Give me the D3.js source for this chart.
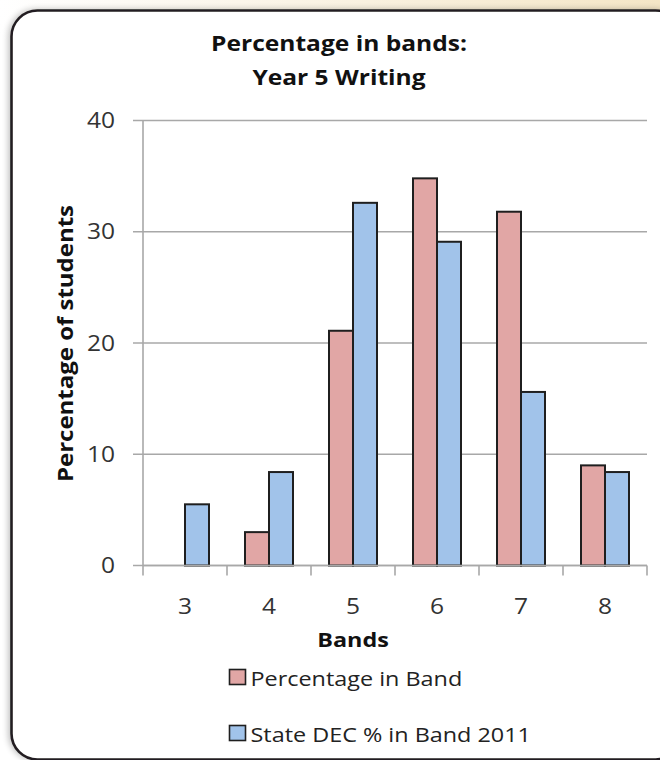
<!DOCTYPE html>
<html>
<head>
<meta charset="utf-8">
<script src="https://cdn.jsdelivr.net/npm/d3@7/dist/d3.min.js"></script>
<style>
  html, body { margin: 0; padding: 0; background: #fff; }
  svg { display: block; }
  text { font-family: "Open Sans", Lato, sans-serif; }
</style>
</head>
<body>
<svg id="chart" width="660" height="760"></svg>
<script>
// Band categories and the two series plotted against them
const bands = ["3", "4", "5", "6", "7", "8"];
const schoolPct = [0, 3.0, 21.1, 34.8, 31.8, 9.0];
const statePct = [5.5, 8.4, 32.6, 29.1, 15.6, 8.4];
const yTicks = [0, 10, 20, 30, 40];
const seriesNames = ["Percentage in Band", "State DEC % in Band 2011"];
const seriesColors = ["#e1a6a5", "#a1c3ea"];

// Wide-set lettering: text is drawn slightly stretched along its baseline
const STRETCH = 1.17;
const at = (px, py, rot = 0) =>
  `translate(${px},${py})${rot ? ` rotate(${rot})` : ""} scale(${STRETCH},1)`;

const svg = d3.select("#chart");

// Page background: soft cream wash across the top, white elsewhere
const defs = svg.append("defs");
const grad = defs.append("linearGradient").attr("id", "topWash")
  .attr("x1", "0").attr("x2", "1").attr("y1", "0").attr("y2", "0");
grad.append("stop").attr("offset", "0").attr("stop-color", "#ffffff");
grad.append("stop").attr("offset", "1").attr("stop-color", "#f4e6c6");
svg.append("rect").attr("x", 0).attr("y", 0).attr("width", 660).attr("height", 40)
  .attr("fill", "url(#topWash)");

const shadow = defs.append("filter").attr("id", "shadow")
  .attr("x", "-10%").attr("y", "-10%").attr("width", "120%").attr("height", "120%");
shadow.append("feGaussianBlur").attr("in", "SourceAlpha").attr("stdDeviation", 3);
shadow.append("feOffset").attr("dx", -2).attr("dy", 0).attr("result", "b");
shadow.append("feComponentTransfer").append("feFuncA").attr("type", "linear").attr("slope", 0.25);
const merge = shadow.append("feMerge");
merge.append("feMergeNode");
merge.append("feMergeNode").attr("in", "SourceGraphic");

// Rounded frame
svg.append("rect")
  .attr("x", 11.5).attr("y", 10.5).attr("width", 670).attr("height", 749)
  .attr("rx", 26).attr("ry", 26)
  .attr("fill", "#ffffff").attr("stroke", "#231f20").attr("stroke-width", 2.6)
  .attr("filter", "url(#shadow)");

// Plot area
const plot = { left: 143, right: 647, top: 120.5, bottom: 565.5 };

const x = d3.scaleBand().domain(bands).range([plot.left, plot.right]).padding(0);
const y = d3.scaleLinear().domain([0, 40]).range([plot.bottom, plot.top]);

// Gridlines with short outside ticks on the left
const gridColor = "#a8a8a8";
svg.append("g").selectAll("line").data(yTicks).join("line")
  .attr("x1", plot.left - 10).attr("x2", plot.right)
  .attr("y1", d => y(d)).attr("y2", d => y(d))
  .attr("stroke", gridColor).attr("stroke-width", 1.6);

// Vertical value axis line
svg.append("line")
  .attr("x1", plot.left).attr("x2", plot.left)
  .attr("y1", plot.top).attr("y2", plot.bottom)
  .attr("stroke", gridColor).attr("stroke-width", 1.6);

// Category tick marks below the baseline
const catEdges = bands.map(b => x(b)).concat([x(bands[bands.length - 1]) + x.bandwidth()]);
svg.append("g").selectAll("line").data(catEdges).join("line")
  .attr("x1", d => d).attr("x2", d => d)
  .attr("y1", plot.bottom).attr("y2", plot.bottom + 10)
  .attr("stroke", gridColor).attr("stroke-width", 1.6);

// Y tick labels
svg.append("g").selectAll("text").data(yTicks).join("text")
  .attr("transform", d => at(115, y(d)))
  .attr("dy", "0.36em")
  .attr("text-anchor", "end")
  .attr("font-size", 21).attr("fill", "#333")
  .text(d => d);

// Bars: width follows a 150% gap between category groups
const barW = x.bandwidth() / 3.5;
const sub = d3.scaleBand().domain([0, 1]).range([0, barW * 2]).padding(0);
const rows = bands.map((b, i) => [schoolPct[i], statePct[i]]);

const groups = svg.append("g").selectAll("g").data(rows).join("g")
  .attr("transform", (d, i) => `translate(${x(bands[i]) + x.bandwidth() / 2 - barW},0)`);

groups.selectAll("rect").data(d => d.map((v, k) => ({ v, k })).filter(o => o.v > 0))
  .join("rect")
  .attr("x", o => sub(o.k))
  .attr("width", sub.bandwidth())
  .attr("y", o => y(o.v))
  .attr("height", o => y(0) - y(o.v))
  .attr("fill", o => seriesColors[o.k])
  .attr("stroke", "#1f1f1f").attr("stroke-width", 2);

// Baseline drawn over the bar bottoms
svg.append("line")
  .attr("x1", plot.left).attr("x2", plot.right)
  .attr("y1", plot.bottom).attr("y2", plot.bottom)
  .attr("stroke", gridColor).attr("stroke-width", 1.6);

// Category labels
svg.append("g").selectAll("text").data(bands).join("text")
  .attr("transform", d => at(x(d) + x.bandwidth() / 2, 614))
  .attr("text-anchor", "middle")
  .attr("font-size", 21).attr("fill", "#333")
  .text(d => d);

// Titles
const title = svg.append("g").attr("font-size", 21).attr("font-weight", "bold").attr("fill", "#111");
title.append("text").attr("transform", at(339, 51)).attr("text-anchor", "middle")
  .text("Percentage in bands:");
title.append("text").attr("transform", at(339, 85)).attr("text-anchor", "middle")
  .text("Year 5 Writing");

svg.append("text").attr("transform", at(353, 647))
  .attr("text-anchor", "middle").attr("font-size", 20).attr("font-weight", "bold").attr("fill", "#111")
  .text("Bands");

svg.append("text")
  .attr("transform", at(73, 343.5, -90))
  .attr("text-anchor", "middle").attr("font-size", 20.5).attr("font-weight", "bold").attr("fill", "#111")
  .text("Percentage of students");

// Legend
const legend = svg.append("g").selectAll("g").data(seriesNames).join("g")
  .attr("transform", (d, i) => `translate(229.5,${669.5 + i * 56})`);
legend.append("rect").attr("x", 0).attr("y", 0).attr("width", 16).attr("height", 15)
  .attr("fill", (d, i) => seriesColors[i]).attr("stroke", "#1f1f1f").attr("stroke-width", 1.6);
legend.append("text").attr("transform", at(21, 16))
  .attr("font-size", 20).attr("fill", "#222")
  .text(d => d);
</script>
</body>
</html>
